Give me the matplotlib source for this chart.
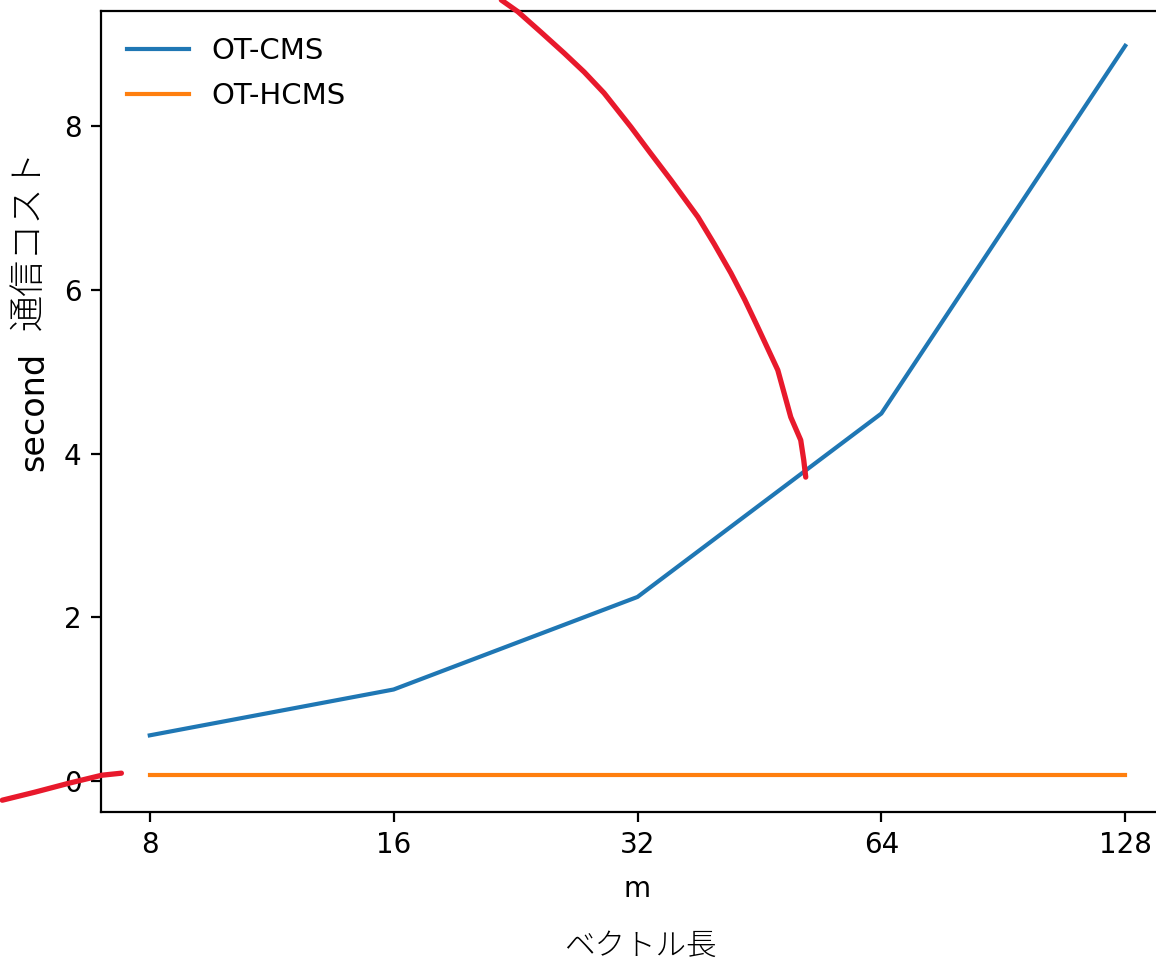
import numpy as np
import matplotlib
matplotlib.use('Agg')
import matplotlib.pyplot as plt

# データ
m = [8, 16, 32, 64, 128]
ot_cms = [0.56, 1.12, 2.25, 4.49, 8.98]
ot_hcms = [0.07, 0.07, 0.07, 0.07, 0.07]

# 手書きの赤い線 (m, second)
red_a_m = [21.73, 22.78, 24.3, 25.97, 27.5, 29.10, 31.41, 33.2, 35.19, 38.00, 39.8, 41.73, 43.4, 45.04, 47.68, 49.47, 50.89, 51.33, 51.62]
red_a_y = [9.539, 9.396, 9.15, 8.892, 8.66, 8.403, 7.988, 7.67, 7.341, 6.889, 6.56, 6.205, 5.88, 5.545, 5.020, 4.446, 4.165, 3.921, 3.713]
red_b_m = [5.26, 5.77, 6.36, 6.98, 7.38]
red_b_y = [-0.232, -0.134, -0.024, 0.073, 0.098]

fig = plt.figure(figsize=(5.78, 4.805), dpi=200)
W, H = 1156, 961
ax = fig.add_axes([101 / W, 1 - 812 / H, (1174 - 101) / W, (812 - 11) / H])

ax.plot(m, ot_cms, label='OT-CMS')
ax.plot(m, ot_hcms, label='OT-HCMS')
ax.set_xscale('log', base=2)
ax.set_xticks(m)
ax.set_xticklabels([str(v) for v in m])
ax.minorticks_off()
ax.set_yticks([0, 2, 4, 6, 8])
ax.set_xlim(2 ** 2.8, 2 ** 7.2)
ax.set_ylim(-0.376, 9.405)
ax.set_xlabel('m', labelpad=5.5)
ax.set_ylabel('second', fontsize=12, labelpad=5)
ax.legend(loc='upper left', frameon=False, fontsize=10.5, labelspacing=0.57, handlelength=2.1)

ax.plot(red_a_m, red_a_y, color='#e8192c', lw=1.9, clip_on=False, solid_capstyle='round',
        solid_joinstyle='round', zorder=5)
ax.plot(red_b_m, red_b_y, color='#e8192c', lw=1.9, clip_on=False, solid_capstyle='round',
        solid_joinstyle='round', zorder=5)

jp = ['Noto Sans CJK JP', 'DejaVu Sans']
fig.text(29 / W, 1 - 240 / H, '通信コスト', rotation=90, ha='center', va='center',
         family=jp, fontsize=13, fontweight='light')
fig.text(640 / W, 1 - 946 / H, 'ベクトル長', ha='center', va='center', family=jp,
         fontsize=11, fontweight='light')

fig.savefig('out.png', dpi=200)
